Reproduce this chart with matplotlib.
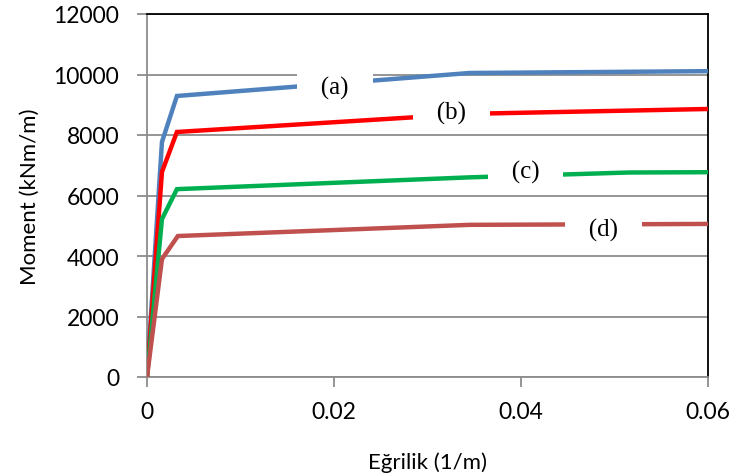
import matplotlib
matplotlib.use("Agg")
import matplotlib.pyplot as plt

curv_a = [0, 0.0016, 0.0032, 0.0345, 0.06]
mom_a = [0, 7770, 9290, 10050, 10110]
curv_b = [0, 0.0016, 0.0032, 0.0345, 0.06]
mom_b = [0, 6780, 8100, 8700, 8860]
curv_c = [0, 0.0016, 0.0032, 0.0345, 0.0515, 0.06]
mom_c = [0, 5220, 6210, 6600, 6760, 6770]
curv_d = [0, 0.0016, 0.0033, 0.0345, 0.06]
mom_d = [0, 3900, 4660, 5030, 5060]

series = [
    (curv_a, mom_a, "#4F81BD", "(a)", 0.0201, 9560),
    (curv_b, mom_b, "#FF0000", "(b)", 0.0326, 8760),
    (curv_c, mom_c, "#00B050", "(c)", 0.0405, 6790),
    (curv_d, mom_d, "#C0504D", "(d)", 0.0488, 4870),
]

x_ticks = [0, 0.02, 0.04, 0.06]
x_tick_labels = ["0", "0.02", "0.04", "0.06"]
y_ticks = [0, 2000, 4000, 6000, 8000, 10000, 12000]

plt.rcParams['font.family'] = ['Lato', 'DejaVu Sans']

fig = plt.figure(figsize=(7.35, 4.77), dpi=100)
ax = fig.add_axes([147/735, 1-378/477, (708-147)/735, (378-15)/477])

for y in y_ticks:
    ax.axhline(y, color="#8c8c8c", lw=1.3, zorder=1)

for xs, ys, c, lab, lx, ly in series:
    ax.plot(xs, ys, color=c, lw=3.2, zorder=3, solid_joinstyle='miter')
    ax.text(lx, ly, "   " + lab + "   ", ha="center", va="center", fontsize=18,
            family="Liberation Serif", zorder=5,
            bbox=dict(facecolor="white", edgecolor="none",
                      boxstyle="square,pad=0.2"))

ax.set_xlim(0, 0.06)
ax.set_ylim(0, 12000)
ax.set_xticks(x_ticks)
ax.set_xticklabels(x_tick_labels)
ax.set_yticks(y_ticks)
ax.tick_params(axis="both", direction="out", length=7, width=1.3,
               color="#8c8c8c", labelsize=16.5)
ax.tick_params(axis="y", pad=13)
ax.tick_params(axis="x", pad=10)

ax.spines["left"].set_color("#8c8c8c")
ax.spines["bottom"].set_color("#8c8c8c")
ax.spines["left"].set_linewidth(1.3)
ax.spines["bottom"].set_linewidth(1.3)
ax.spines["top"].set_color("black")
ax.spines["right"].set_color("black")
ax.spines["top"].set_linewidth(1.3)
ax.spines["right"].set_linewidth(1.3)

ax.set_xlabel("Eğrilik (1/m)", fontsize=16)
ax.set_ylabel("Moment (kNm/m)", fontsize=16)
ax.xaxis.set_label_coords(0.5, -(452-378)/363, transform=ax.transAxes)
ax.yaxis.set_label_coords(-(147-40)/561, 0.5, transform=ax.transAxes)

fig.savefig("out.png", dpi=100)
